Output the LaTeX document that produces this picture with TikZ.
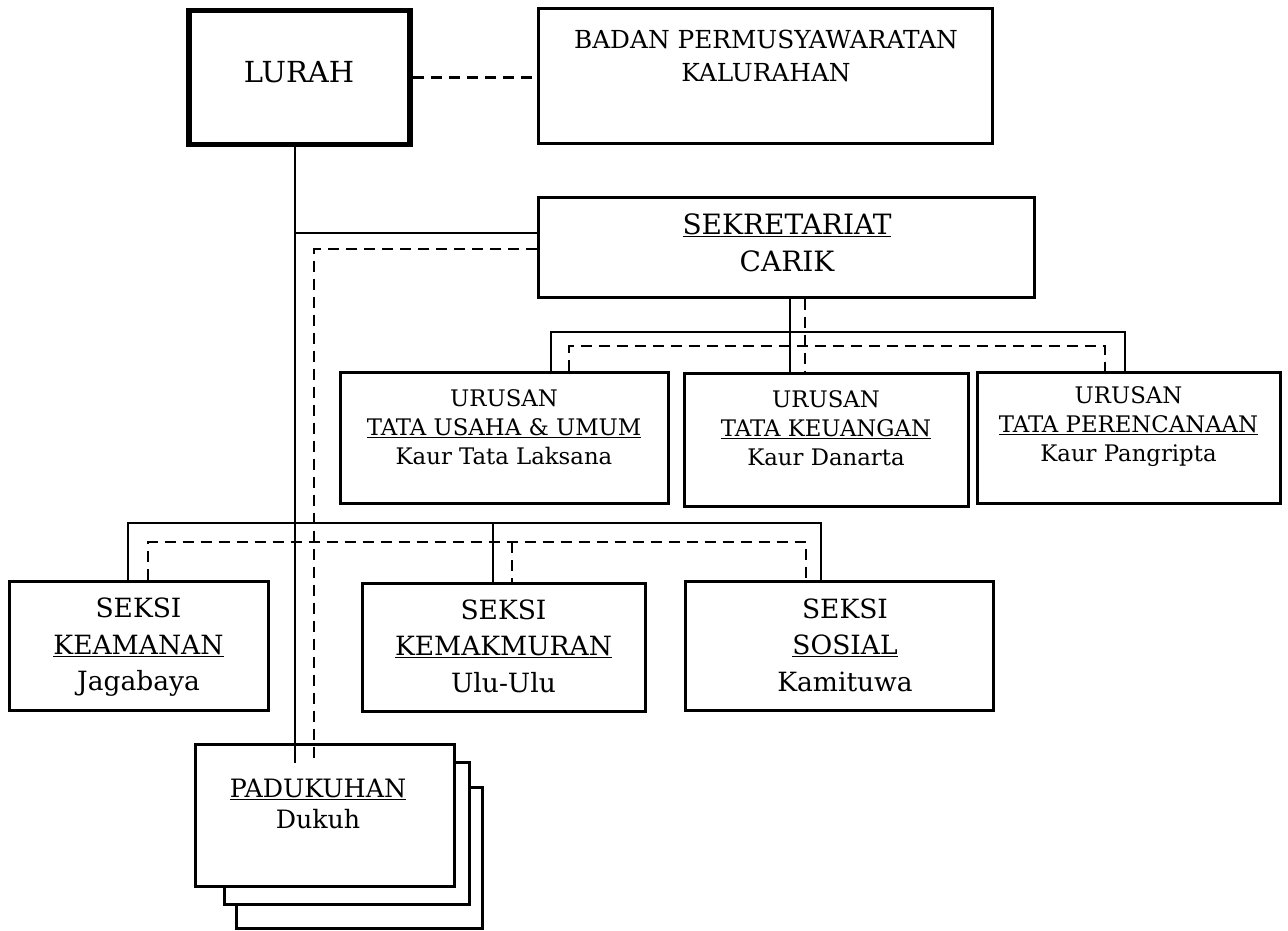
\documentclass[tikz,border=0pt]{standalone}
\usepackage{fontspec}
\setmainfont{DejaVu Serif}
\begin{document}
\begin{tikzpicture}[x=1pt,y=-1pt,
  box/.style={draw,line width=3pt,fill=white,inner sep=0pt},
  conn/.style={line width=2.2pt},
  dconn/.style={line width=2.2pt,dash pattern=on 11pt off 7pt},
  txt/.style={align=center,inner sep=0pt},
  fA/.style={font=\fontsize{29}{37}\selectfont},
  fB/.style={font=\fontsize{24.8}{33}\selectfont},
  fC/.style={font=\fontsize{28}{37}\selectfont},
  fD/.style={font=\fontsize{22.8}{29}\selectfont},
  fE/.style={font=\fontsize{26.5}{36.5}\selectfont},
  fF/.style={font=\fontsize{25.3}{31}\selectfont}]
\useasboundingbox (0,0) rectangle (1288,930);
% boxes
\node[box,line width=5.5pt,minimum width=221pt,minimum height=134pt] (lurah) at (299.5,77.5) {};
\node[box,minimum width=454pt,minimum height=135pt] (bpk) at (765,76) {};
\node[box,minimum width=496pt,minimum height=100pt] (sek) at (786,247) {};
\node[box,minimum width=328pt,minimum height=131pt] (u1) at (504,437.5) {};
\node[box,minimum width=284pt,minimum height=133pt] (u2) at (826,439.5) {};
\node[box,minimum width=303pt,minimum height=131pt] (u3) at (1128.5,437.5) {};
\node[box,minimum width=259pt,minimum height=129pt] (s1) at (138.5,645.5) {};
\node[box,minimum width=283pt,minimum height=128pt] (s2) at (503.5,647) {};
\node[box,minimum width=308pt,minimum height=129pt] (s3) at (839,645.5) {};
\node[box,minimum width=246pt,minimum height=141pt] (p3) at (359,857.5) {};
\node[box,minimum width=245pt,minimum height=142pt] (p2) at (346.5,833) {};
\node[box,minimum width=259pt,minimum height=142pt] (p1) at (324.5,815) {};
% texts
\node[txt,fA] (tl) at (299,72.5) {LURAH};
\node[txt,fB] (tb) at (766,56) {BADAN PERMUSYAWARATAN\\KALURAHAN};
\node[txt,fC] (ts) at (787,243) {\underline{SEKRETARIAT}\\CARIK};
\node[txt,fD] (tu1) at (504,427) {URUSAN\\\underline{TATA USAHA \& UMUM}\\Kaur Tata Laksana};
\node[txt,fD] (tu2) at (826,428.5) {URUSAN\\\underline{TATA KEUANGAN}\\Kaur Danarta};
\node[txt,fD] (tu3) at (1128.5,427) {URUSAN\\\underline{TATA PERENCANAAN}\\Kaur Pangripta};
\node[txt,fE] (ts1) at (138.5,647.5) {SEKSI\\\underline{KEAMANAN}\\Jagabaya};
\node[txt,fE] (ts2) at (503.5,646) {SEKSI\\\underline{KEMAKMURAN}\\Ulu-Ulu};
\node[txt,fE] (ts3) at (845,645) {SEKSI\\\underline{SOSIAL}\\Kamituwa};
\node[txt,fF] (tp) at (318,804) {\underline{PADUKUHAN}\\Dukuh};
% named coordinates
\coordinate (trunk) at (295,763);
\coordinate (jS) at (295,233);
\coordinate (dS) at (314,249);
\coordinate (dtrunk) at (314,760);
\coordinate (kS) at (790,0);
\coordinate (kD) at (805,0);
\coordinate (uS1) at (551,332);
\coordinate (uS3) at (1125,332);
\coordinate (uD1) at (569,346);
\coordinate (uD3) at (1105,346);
\coordinate (sS1) at (128,523);
\coordinate (sS2) at (493,523);
\coordinate (sS3) at (821,523);
\coordinate (sD1) at (148,542);
\coordinate (sD2) at (512,542);
\coordinate (sD3) at (806,542);
% connectors
\draw[dconn] (lurah.east) -- (lurah.east -| bpk.west);
\draw[conn] (lurah.south -| trunk) -- (trunk);
\draw[conn] (jS) -- (jS -| sek.west);
\draw[dconn] (dS -| sek.west) -- (dS) -- (dtrunk);
\draw[conn] (sek.south -| kS) -- (u2.north -| kS);
\draw[dconn] (sek.south -| kD) -- (u2.north -| kD);
\draw[conn] (u1.north -| uS1) -- (uS1) -- (uS3) -- (u3.north -| uS3);
\draw[dconn] (u1.north -| uD1) -- (uD1) -- (uD3) -- (u3.north -| uD3);
\draw[conn] (s1.north -| sS1) -- (sS1) -- (sS3) -- (s3.north -| sS3);
\draw[conn] (sS2) -- (s2.north -| sS2);
\draw[dconn] (s1.north -| sD1) -- (sD1) -- (sD3) -- (s3.north -| sD3);
\draw[dconn] (sD2) -- (s2.north -| sD2);
\end{tikzpicture}
\end{document}
